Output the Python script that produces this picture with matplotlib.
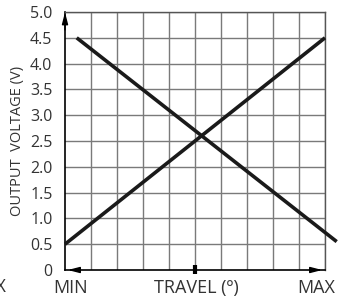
import matplotlib
matplotlib.use("Agg")
import matplotlib.pyplot as plt
import numpy as np

plt.rcParams['font.family'] = ['Open Sans', 'DejaVu Sans']

# data (x in grid columns, 0 = MIN, 10 = MAX)
y_ticks = [0, 0.5, 1.0, 1.5, 2.0, 2.5, 3.0, 3.5, 4.0, 4.5, 5.0]
y_tick_labels = ["0", "0.5", "1.0", "1.5", "2.0", "2.5", "3.0", "3.5", "4.0", "4.5", "5.0"]
x_grid = [0, 1, 2, 3, 4, 5, 6, 7, 8, 9, 10]
rise_x = [0, 10]
rise_y = [0.5, 4.5]
fall_x = [0.45, 10.45]
fall_y = [4.5, 0.55]

fig = plt.figure(figsize=(3.42, 3.0), dpi=100)
ax = fig.add_axes([65 / 342, 30 / 300, 260 / 342, 258 / 300])

ax.set_xlim(0, 10)
ax.set_ylim(0, 5)

# grid
for xv in x_grid[1:]:
    ax.axvline(xv, color='#7a7a7a', lw=1.0, zorder=1)
for yv in y_ticks[1:]:
    ax.axhline(yv, color='#7a7a7a', lw=1.0, zorder=1)

for side in ['top', 'right']:
    ax.spines[side].set_color('#555555')
    ax.spines[side].set_linewidth(1.0)
for side in ['left', 'bottom']:
    ax.spines[side].set_color('black')
    ax.spines[side].set_linewidth(1.2)

# the two output lines
ax.plot(rise_x, rise_y, color='#1a1a1a', lw=2.6, clip_on=False, zorder=3,
        solid_capstyle='butt')
ax.plot(fall_x, fall_y, color='#1a1a1a', lw=2.6, clip_on=False, zorder=3,
        solid_capstyle='butt')

# axis arrows
arr = dict(arrowstyle='-|>,head_length=0.7,head_width=0.18', color='black', lw=1.0)
ax.annotate('', xy=(0, 5.05), xytext=(0, 4.6), arrowprops=arr, annotation_clip=False)
ax.annotate('', xy=(10.0, 0), xytext=(9.4, 0), arrowprops=arr, annotation_clip=False)
ax.annotate('', xy=(0.0, 0), xytext=(0.6, 0), arrowprops=arr, annotation_clip=False)

# centre tick on travel axis
ax.plot([5, 5], [-0.08, 0.09], color='black', lw=3, clip_on=False, zorder=4,
        solid_capstyle='butt')

ax.set_yticks(y_ticks)
ax.set_yticklabels(y_tick_labels)
ax.set_xticks([])
ax.tick_params(axis='y', length=0, pad=9, labelsize=11.5, labelcolor='#333333')

ax.set_ylabel('OUTPUT  VOLTAGE (V)', fontsize=10.5, color='#333333', labelpad=4)

ax.text(0.23, -0.035, 'MIN', transform=ax.get_xaxis_transform(), ha='center',
        va='top', fontsize=13, color='#333333')
ax.text(5.05, -0.035, 'TRAVEL (º)', transform=ax.get_xaxis_transform(), ha='center',
        va='top', fontsize=13, color='#333333')
ax.text(9.65, -0.035, 'MAX', transform=ax.get_xaxis_transform(), ha='center',
        va='top', fontsize=13, color='#333333')
fig.text(6 / 342, 13 / 300, 'MAX', ha='right', va='center', fontsize=13, color='#333333')

fig.savefig('out.png', dpi=100)
